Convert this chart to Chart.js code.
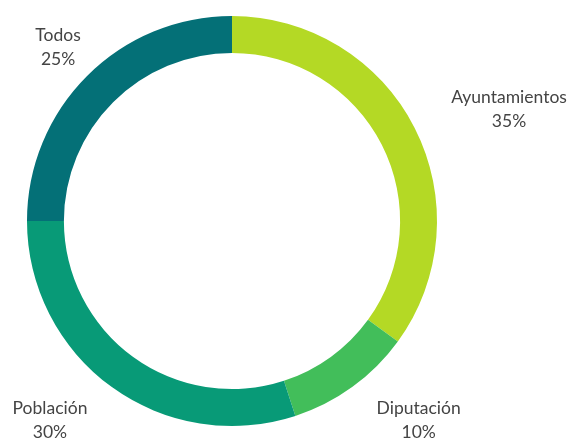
<!DOCTYPE html>
<html>
<head>
<meta charset="utf-8">
<script src="https://cdn.jsdelivr.net/npm/chart.js@4/dist/chart.umd.min.js"></script>
<style>
  html, body { margin: 0; padding: 0; background: #ffffff; }
  #wrap { position: relative; width: 568px; height: 439px; }
</style>
</head>
<body>
<div id="wrap"><canvas id="c" width="568" height="439"></canvas></div>
<script>
const categories = ['Ayuntamientos', 'Diputación', 'Población', 'Todos'];
const values = [35, 10, 30, 25];
const colors = ['#b4d925', '#42be5a', '#089a77', '#047077'];
const labelAlign = ['left', 'left', 'right', 'center'];

const outLabels = {
  id: 'outLabels',
  afterDatasetsDraw(chart) {
    const ctx = chart.ctx;
    const meta = chart.getDatasetMeta(0);
    ctx.save();
    ctx.font = '17.5px Lato, "Open Sans", sans-serif';
    ctx.fillStyle = '#444444';
    ctx.textBaseline = 'middle';
    meta.data.forEach((arc, i) => {
      const p = arc.getProps(['x', 'y', 'startAngle', 'endAngle', 'outerRadius'], true);
      const mid = (p.startAngle + p.endAngle) / 2;
      const r = p.outerRadius + 41;
      const ax = p.x + Math.cos(mid) * r;
      const ay = p.y + Math.sin(mid) * r;
      const l1 = categories[i];
      const l2 = values[i] + '%';
      const w = Math.max(ctx.measureText(l1).width, ctx.measureText(l2).width);
      let cx = ax;
      if (labelAlign[i] === 'left') cx = ax + w / 2;
      else if (labelAlign[i] === 'right') cx = ax - w / 2;
      ctx.textAlign = 'center';
      ctx.fillText(l1, cx, ay - 12);
      ctx.fillText(l2, cx, ay + 12);
    });
    ctx.restore();
  }
};

new Chart(document.getElementById('c'), {
  type: 'doughnut',
  data: {
    labels: categories,
    datasets: [{
      data: values,
      backgroundColor: colors,
      borderWidth: 0,
      hoverOffset: 0
    }]
  },
  options: {
    responsive: false,
    maintainAspectRatio: false,
    animation: false,
    cutout: '82%',
    layout: { padding: { top: 16, bottom: 13, left: 27, right: 131 } },
    plugins: {
      legend: { display: false },
      tooltip: { enabled: false }
    }
  },
  plugins: [outLabels]
});
</script>
</body>
</html>
